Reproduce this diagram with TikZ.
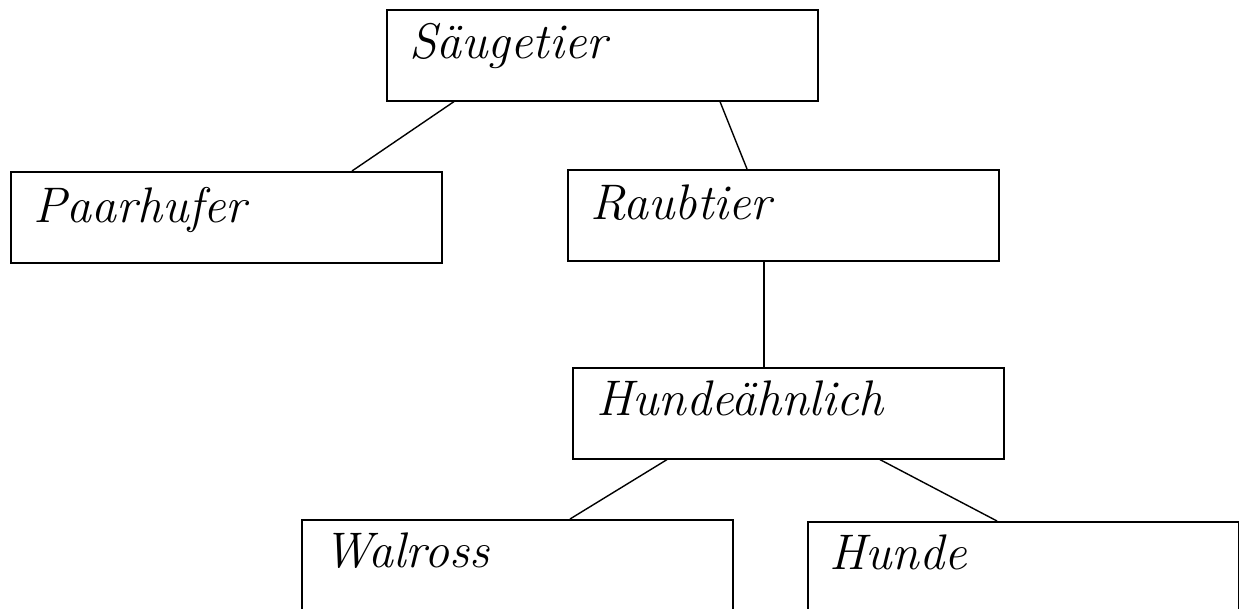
\documentclass[tikz,border=0pt]{standalone}
\usepackage{tikz}

\begin{document}
\begin{tikzpicture}[x=1pt, y=-1pt,
	classBox/.style={draw=outlineColor, line width=1.6pt, rectangle, anchor=north west,
		minimum width=431pt, minimum height=91pt, inner sep=0pt},
	classText/.style={anchor=base west, inner sep=0pt,
		font=\fontsize{50}{60}\selectfont\itshape},
	classLink/.style={draw=outlineColor, line width=1.4pt}]
% Colors
\definecolor{outlineColor}{RGB}{0,0,0}
\useasboundingbox (0,0) rectangle (1239,608);
% Boxes
\node[classBox] (saeugetier)    at (386,  9) {}; % top
\node[classBox] (paarhufer)     at ( 10,171) {}; % left
\node[classBox] (raubtier)      at (567,169) {}; % right
\node[classBox] (hundeaehnlich) at (572,367) {}; % middle
\node[classBox] (walross)       at (301,519) {}; % bottom left
\node[classBox] (hunde)         at (807,521) {}; % bottom right
% Names
\node[classText] (saeugetierText)    at ([xshift=23pt,yshift=-49pt]saeugetier.north west)    {Säugetier};
\node[classText] (paarhuferText)     at ([xshift=23pt,yshift=-51pt]paarhufer.north west)     {Paarhufer};
\node[classText] (raubtierText)      at ([xshift=23pt,yshift=-50pt]raubtier.north west)      {Raubtier};
\node[classText] (hundeaehnlichText) at ([xshift=24pt,yshift=-48pt]hundeaehnlich.north west) {Hundeähnlich};
\node[classText] (walrossText)       at ([xshift=22pt,yshift=-48pt]walross.north west)       {Walross};
\node[classText] (hundeText)         at ([xshift=22pt,yshift=-48pt]hunde.north west)         {Hunde};
% Links
\begin{scope}[classLink]
	\draw ([xshift= 68pt]saeugetier.south west)    -- ([xshift=342pt]paarhufer.north west);     % Säugetier--Paarhufer
	\draw ([xshift=334pt]saeugetier.south west)    -- ([xshift=180pt]raubtier.north west);      % Säugetier--Raubtier
	\draw ([xshift=197pt]raubtier.south west)      -- ([xshift=192pt]hundeaehnlich.north west); % Raubtier--Hundeähnlich
	\draw ([xshift= 95pt]hundeaehnlich.south west) -- ([xshift=269pt]walross.north west);       % Hundeähnlich--Walross
	\draw ([xshift=308pt]hundeaehnlich.south west) -- ([xshift=190pt]hunde.north west);         % Hundeähnlich--Hunde
\end{scope}
\end{tikzpicture}
\end{document}
